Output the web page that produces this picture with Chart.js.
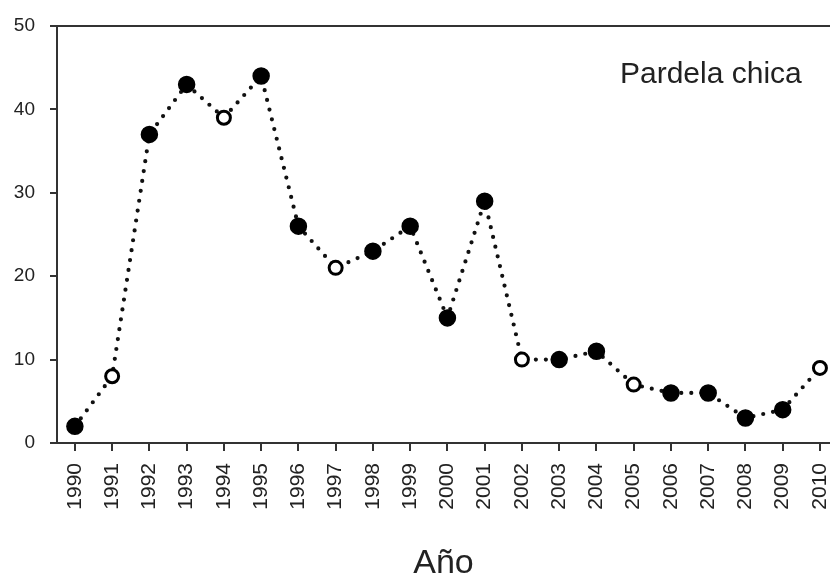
<!DOCTYPE html>
<html>
<head>
<meta charset="utf-8">
<script src="https://cdn.jsdelivr.net/npm/chart.js@4/dist/chart.umd.min.js"></script>
<style>
  html, body { margin: 0; padding: 0; background: #fff; }
  #wrap { width: 830px; height: 577px; position: relative; }
</style>
</head>
<body>
<div id="wrap"><canvas id="c" width="830" height="577"></canvas></div>
<script>
const years = [1990, 1991, 1992, 1993, 1994, 1995, 1996, 1997, 1998, 1999, 2000,
               2001, 2002, 2003, 2004, 2005, 2006, 2007, 2008, 2009, 2010];
const counts = [2, 8, 37, 43, 39, 44, 26, 21, 23, 26, 15,
                29, 10, 10, 11, 7, 6, 6, 3, 4, 9];
const filled = [true, false, true, true, false, true, true, false, true, true, true,
                true, false, true, true, false, true, true, true, true, false];
const yTicks = [0, 10, 20, 30, 40, 50];
const panelTitle = 'Pardela chica';
const xTitle = 'Año';

const FONT = '"Liberation Sans", Arial, Helvetica, sans-serif';
const AXIS = '#333';

const extras = {
  id: 'extras',
  afterDraw(chart) {
    const { ctx, chartArea } = chart;
    ctx.save();
    ctx.strokeStyle = AXIS;
    ctx.lineWidth = 2;
    ctx.beginPath();
    ctx.moveTo(chartArea.left - 7, chartArea.top);
    ctx.lineTo(chartArea.right, chartArea.top);
    ctx.stroke();
    ctx.fillStyle = '#222';
    ctx.font = '30px ' + FONT;
    ctx.textBaseline = 'alphabetic';
    ctx.textAlign = 'left';
    ctx.fillText(panelTitle, 620, 83);
    ctx.restore();
  }
};

new Chart(document.getElementById('c'), {
  type: 'line',
  data: {
    datasets: [{
      data: years.map((y, i) => ({ x: y, y: counts[i] })),
      borderColor: '#111',
      borderWidth: 4.2,
      borderDash: [0, 10],
      borderCapStyle: 'round',
      tension: 0,
      fill: false,
      clip: false,
      pointRadius: filled.map(f => f ? 8 : 6.5),
      pointHoverRadius: filled.map(f => f ? 8 : 6.5),
      pointBorderWidth: filled.map(f => f ? 1.5 : 3),
      pointBorderColor: '#000',
      pointBackgroundColor: filled.map(f => f ? '#000' : '#fff')
    }]
  },
  plugins: [extras],
  options: {
    responsive: false,
    animation: false,
    devicePixelRatio: 1,
    layout: { autoPadding: false, padding: { top: 26, right: 0, left: 0, bottom: 0 } },
    plugins: { legend: { display: false }, tooltip: { enabled: false }, title: { display: false } },
    scales: {
      x: {
        type: 'linear',
        min: 1989.52,
        max: 2010.27,
        afterBuildTicks: (s) => { s.ticks = years.map(v => ({ value: v })); },
        afterFit: (s) => { s.height = 134; s.paddingLeft = 0; s.paddingRight = 0; },
        border: { display: true, color: AXIS, width: 2 },
        grid: { display: true, drawOnChartArea: false, drawTicks: true, tickLength: 8, color: AXIS, lineWidth: 2 },
        ticks: {
          autoSkip: false,
          maxRotation: 90,
          minRotation: 90,
          padding: 12,
          color: '#222',
          font: { family: FONT, size: 21 },
          callback: (v) => String(v)
        },
        title: {
          display: true,
          text: xTitle,
          color: '#222',
          font: { family: FONT, size: 34 },
          padding: { top: 0, bottom: -7 }
        }
      },
      y: {
        type: 'linear',
        min: 0,
        max: 50,
        afterBuildTicks: (s) => { s.ticks = yTicks.map(v => ({ value: v })); },
        afterFit: (s) => { s.width = 57; s.paddingTop = 0; s.paddingBottom = 0; },
        border: { display: true, color: AXIS, width: 2 },
        grid: { display: true, drawOnChartArea: false, drawTicks: true, tickLength: 7, color: AXIS, lineWidth: 2 },
        ticks: {
          padding: 15,
          color: '#222',
          font: { family: FONT, size: 19 }
        }
      }
    }
  }
});
</script>
</body>
</html>
